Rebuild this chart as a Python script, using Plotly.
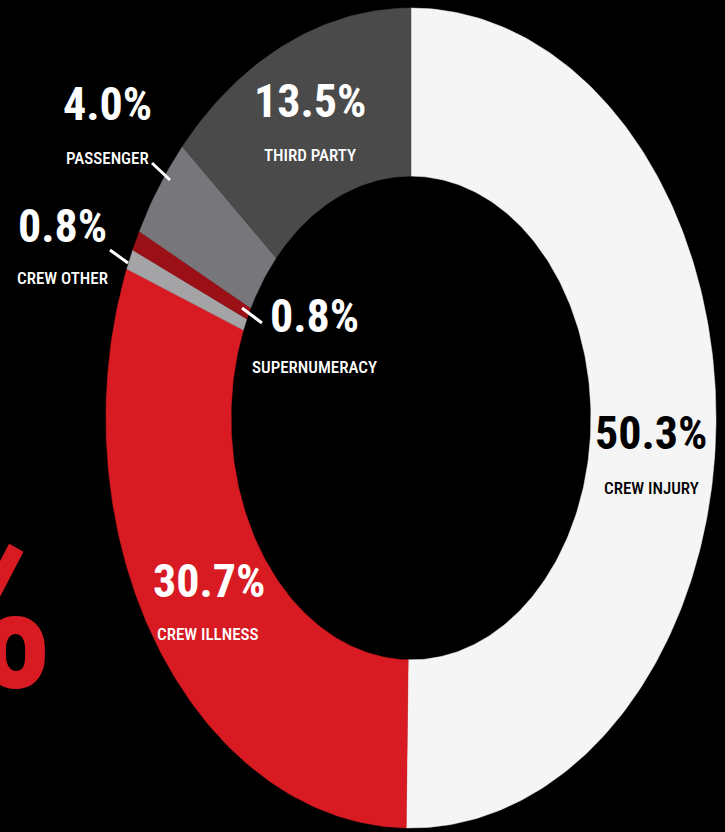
import numpy as np
import plotly.graph_objects as go

# ---- data (clockwise from 12 o'clock) ----
categories = ["CREW INJURY", "CREW ILLNESS", "CREW OTHER", "SUPERNUMERACY", "PASSENGER", "THIRD PARTY"]
values = [50.3, 30.7, 0.8, 0.8, 4.0, 13.5]
pct_labels = ["50.3%", "30.7%", "0.8%", "0.8%", "4.0%", "13.5%"]
colors = ["#f5f5f5", "#d81a23", "#a4a4a6", "#9a1016", "#77777b", "#4a4a4a"]
text_colors = ["#000000", "#ffffff", "#ffffff", "#ffffff", "#ffffff", "#ffffff"]

W, H = 725, 832
CX, CY, RX, RY = 411, 418, 305, 410   # ellipse geometry in pixels
HOLE = 0.59

xmin, xmax = -CX / RX, (W - CX) / RX
ymax, ymin = CY / RY, -(H - CY) / RY

fig = go.Figure()
total = sum(values)
start = 0.0
for cat, v, col in zip(categories, values, colors):
    a0 = start / total * 2 * np.pi
    a1 = (start + v) / total * 2 * np.pi
    n = max(8, int(400 * v / total))
    t = np.linspace(a0, a1, n)
    xo, yo = np.sin(t), np.cos(t)
    xi, yi = HOLE * np.sin(t[::-1]), HOLE * np.cos(t[::-1])
    xs = np.concatenate([xo, xi, xo[:1]])
    ys = np.concatenate([yo, yi, yo[:1]])
    fig.add_trace(go.Scatter(x=xs, y=ys, mode="lines", fill="toself", fillcolor=col,
                             line=dict(width=0.5, color=col), name=cat,
                             hoverinfo="name", showlegend=False))
    start += v

FONT = "Roboto Condensed, Liberation Sans Narrow, DejaVu Sans Condensed, Roboto, sans-serif"

def px(xp, yp):
    return xp / W, 1 - yp / H

# label positions in pixels: (pct center, sublabel center)
label_pos = {
    "CREW INJURY": ((651, 433), (651, 488)),
    "CREW ILLNESS": ((209, 581), (208, 634)),
    "CREW OTHER": ((62, 226), (62, 278)),
    "SUPERNUMERACY": ((314, 316), (314, 367)),
    "PASSENGER": ((107, 104), (107, 158)),
    "THIRD PARTY": ((310, 101), (310, 155)),
}
for cat, pct, tc in zip(categories, pct_labels, text_colors):
    (x1, y1), (x2, y2) = label_pos[cat]
    ax, ay = px(x1, y1)
    fig.add_annotation(x=ax, y=ay, xref="paper", yref="paper", text="<b>" + pct + "</b>",
                       showarrow=False, xanchor="center", yanchor="middle",
                       font=dict(family=FONT, size=46, color=tc))
    bx, by = px(x2, y2)
    fig.add_annotation(x=bx, y=by, xref="paper", yref="paper", text=cat,
                       showarrow=False, xanchor="center", yanchor="middle",
                       font=dict(family=FONT, size=17, color=tc, weight=500))

# big cropped red percent sign at the left edge (cropped in the reference too)
gx, gy = px(56, 612)
fig.add_annotation(x=gx, y=gy, xref="paper", yref="paper", text="<b>%</b>",
                   showarrow=False, xanchor="right", yanchor="middle",
                   font=dict(family=FONT, size=220, color="#d81a23"))

# leader lines (pixel endpoints)
leaders = [((152, 163), (170, 180)), ((110, 250), (128, 263)), ((242, 308), (262, 323))]
for (x0, y0), (x1, y1) in leaders:
    p0, p1 = px(x0, y0), px(x1, y1)
    fig.add_shape(type="line", xref="paper", yref="paper", x0=p0[0], y0=p0[1], x1=p1[0], y1=p1[1],
                  line=dict(color="#ffffff", width=3))

fig.update_layout(
    width=W, height=H, margin=dict(l=0, r=0, t=0, b=0),
    paper_bgcolor="#000000", plot_bgcolor="#000000",
    xaxis=dict(range=[xmin, xmax], visible=False, fixedrange=True),
    yaxis=dict(range=[ymin, ymax], visible=False, fixedrange=True),
    showlegend=False,
)
fig.write_html("out.html")
